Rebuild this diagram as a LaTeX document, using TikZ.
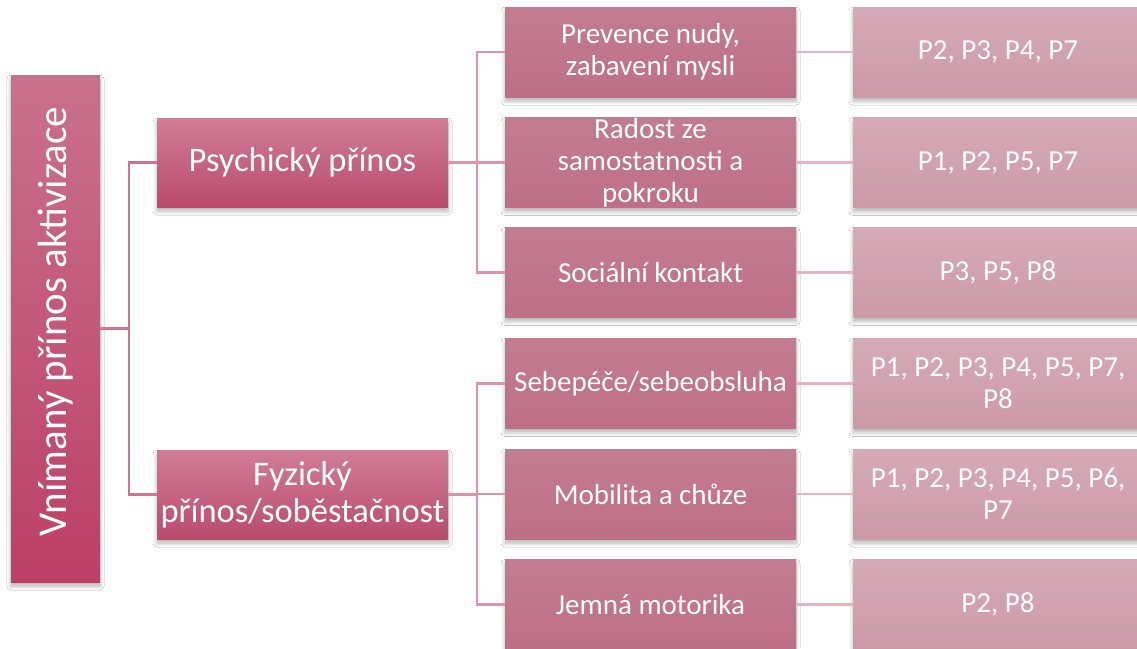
\documentclass[tikz,border=0pt]{standalone}
\usepackage{fontspec}
\setmainfont{Carlito}
\usetikzlibrary{shadows.blur}
\definecolor{rootT}{HTML}{C9718D}
\definecolor{rootB}{HTML}{BC3F68}
\definecolor{aT}{HTML}{D07D97}
\definecolor{aB}{HTML}{B94A6E}
\definecolor{bT}{HTML}{C27C92}
\definecolor{bB}{HTML}{BF6F88}
\definecolor{cT}{HTML}{D6AAB8}
\definecolor{cB}{HTML}{CC99A9}
\definecolor{lineA}{HTML}{D4738F}
\definecolor{lineB}{HTML}{DC94A9}
\definecolor{lineC}{HTML}{E6B3C1}
\tikzset{
  boxbase/.style={rectangle, inner sep=0pt, align=center, text=white,
    blur shadow={shadow xshift=0pt, shadow yshift=-4pt, shadow blur steps=8, shadow blur radius=4pt, shadow opacity=30}},
  rootbox/.style={boxbase, minimum width=89pt, minimum height=507pt, top color=rootT, bottom color=rootB},
  lonebox/.style={boxbase, minimum width=291pt, minimum height=89pt, top color=aT, bottom color=aB,
    font=\fontsize{34.5}{37}\selectfont},
  ltwobox/.style={boxbase, minimum width=291pt, minimum height=90pt, top color=bT, bottom color=bB,
    font=\fontsize{29}{32}\selectfont},
  lthreebox/.style={boxbase, minimum width=290pt, minimum height=90pt, top color=cT, bottom color=cB,
    font=\fontsize{29}{32}\selectfont},
  conA/.style={draw=lineA, line width=2.5pt},
  conB/.style={draw=lineB, line width=2.5pt},
  conC/.style={draw=lineC, line width=2.5pt},
}
\begin{document}
\begin{tikzpicture}[x=1pt,y=-1pt]
\useasboundingbox (0,0) rectangle (1137,648);
\fill[white] (0,0) rectangle (1137,648);
\coordinate (rj) at (129,328.5);
\coordinate (pj) at (477,162.5);
\coordinate (fj) at (477,494.5);

\node[rootbox] (root) at (55.5,328.5) {\rotatebox{90}{\fontsize{41}{45}\selectfont\hspace*{14pt}Vnímaný přínos aktivizace}};

\node[lonebox] (psy) at (302.5,162.5) {Psychický přínos};
\node[lonebox] (fyz) at (302.5,494.5) {Fyzický\\přínos/soběstačnost};

\node[ltwobox] (a1) at (650.5,52) {Prevence nudy,\\zabavení mysli};
\node[ltwobox] (a2) at (650.5,162.5) {Radost ze\\samostatnosti a\\pokroku};
\node[ltwobox] (a3) at (650.5,272.5) {Sociální kontakt};
\node[ltwobox] (b1) at (650.5,383.5) {Sebepéče/sebeobsluha};
\node[ltwobox] (b2) at (650.5,494) {Mobilita a chůze};
\node[ltwobox] (b3) at (650.5,604.5) {Jemná motorika};

\node[lthreebox] (c1) at (998,52) {P2, P3, P4, P7};
\node[lthreebox] (c2) at (998,162.5) {P1, P2, P5, P7};
\node[lthreebox] (c3) at (998,272.5) {P3, P5, P8};
\node[lthreebox] (d1) at (998,383.5) {P1, P2, P3, P4, P5, P7,\\P8};
\node[lthreebox] (d2) at (998,494) {P1, P2, P3, P4, P5, P6,\\P7};
\node[lthreebox] (d3) at (998,604.5) {P2, P8};

\path[conA] (root.east) -- (rj);
\path[conA] (rj) |- (psy.west);
\path[conA] (rj) |- (fyz.west);
\path[conB] (psy.east) -- (pj);
\path[conB] (pj) |- (a1.west);
\path[conB] (pj) |- (a2.west);
\path[conB] (pj) |- (a3.west);
\path[conB] (fyz.east) -- (fj);
\path[conB] (fj) |- (b1.west);
\path[conB] (fj) |- (b2.west);
\path[conB] (fj) |- (b3.west);
\path[conC] (a1.east) -- (c1.west);
\path[conC] (a2.east) -- (c2.west);
\path[conC] (a3.east) -- (c3.west);
\path[conC] (b1.east) -- (d1.west);
\path[conC] (b2.east) -- (d2.west);
\path[conC] (b3.east) -- (d3.west);
\end{tikzpicture}
\end{document}
